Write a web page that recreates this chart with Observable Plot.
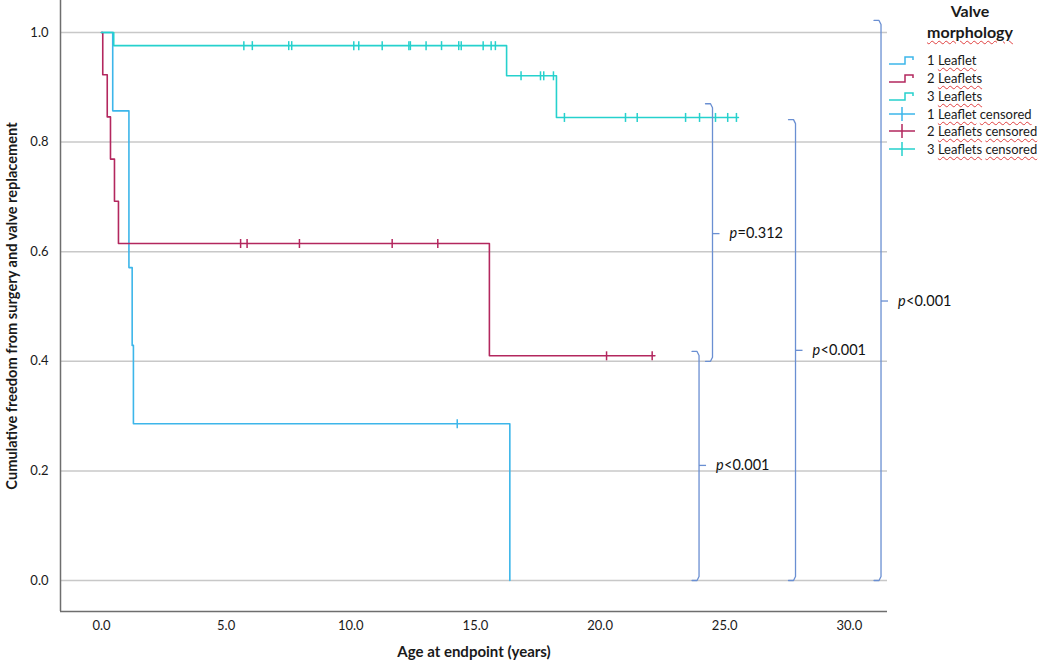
<!DOCTYPE html>
<html><head><meta charset="utf-8">
<script src="https://cdn.jsdelivr.net/npm/d3@7"></script>
<script src="https://cdn.jsdelivr.net/npm/@observablehq/plot@0.6"></script>
<style>
body{margin:0;background:#fff;font-family:Lato,"Open Sans",sans-serif;color:#1a1a1a;}
#wrap{position:relative;width:1049px;height:668px;overflow:hidden;}
#legend{position:absolute;left:0;top:0;}
.ltitle{position:absolute;left:900px;width:140px;top:0;text-align:center;font-weight:bold;font-size:16px;line-height:21px;}
.row{position:absolute;left:888px;height:18px;display:flex;align-items:center;font-size:13px;white-space:nowrap;}
.row svg{margin-right:11px;}
.sq{text-decoration:underline wavy #e04040 1px;text-underline-offset:2px;}
</style></head>
<body><div id="wrap"><div id="chart"></div><div id="legend"></div></div>
<script>
// ---- Data ----
const groups = ["1 Leaflet", "2 Leaflets", "3 Leaflets"];
const colors = ["#3db6ea", "#b3275e", "#26d1cd"];

// step curves (time in years, cumulative freedom)
const leaflet1Times = [0, 0.45, 1.10, 1.23, 1.28, 16.38];
const leaflet1Surv  = [1, 0.857, 0.571, 0.429, 0.286, 0];
const leaflet2Times = [0, 0.05, 0.23, 0.36, 0.52, 0.68, 15.56, 22.2];
const leaflet2Surv  = [1, 0.923, 0.846, 0.769, 0.692, 0.615, 0.410, 0.410];
const leaflet3Times = [0, 0.49, 16.25, 18.25, 25.55];
const leaflet3Surv  = [1, 0.976, 0.921, 0.845, 0.845];

// censored observations (years)
const leaflet1Censored = [14.27];
const leaflet2Censored = [5.58, 5.84, 7.94, 11.66, 13.49, 20.26, 22.09];
const leaflet3Censored = [5.71, 6.05, 7.51, 7.63, 10.12, 10.32, 11.26, 12.33, 12.39, 13.02, 13.64, 14.33, 14.43, 15.31, 15.63, 15.80,
  16.83, 17.61, 17.74, 18.13,
  18.57, 21.02, 21.49, 23.43, 23.99, 24.63, 25.12, 25.47];

// axis ticks
const xTicks = [0, 5, 10, 15, 20, 25, 30];
const yTicks = [0, 0.2, 0.4, 0.6, 0.8, 1.0];
const X_DOMAIN = [-1.645, 31.53];
const Y_DOMAIN = [-0.0566, 1.0584];

// comparison brackets: x position, top, bottom, tip, label
const bracketX     = [24.51, 23.97, 27.84, 31.27];
const bracketTop   = [0.870, 0.418, 0.841, 1.022];
const bracketBot   = [0.400, 0.000, 0.000, 0.000];
const bracketTip   = [0.633, 0.210, 0.420, 0.510];
const bracketLabel = ["=0.312", "<0.001", "<0.001", "<0.001"];

// ---- Build tables ----
const curveSets = [[leaflet1Times, leaflet1Surv], [leaflet2Times, leaflet2Surv], [leaflet3Times, leaflet3Surv]];
const curveRows = [];
curveSets.forEach(([ts, ss], i) => ts.forEach((t, j) => curveRows.push({group: groups[i], t, s: ss[j]})));
function survAt(i, t) {
  const [ts, ss] = curveSets[i];
  let s = ss[0];
  for (let j = 0; j < ts.length; j++) if (ts[j] <= t) s = ss[j];
  return s;
}
const censorRows = [];
[leaflet1Censored, leaflet2Censored, leaflet3Censored].forEach((arr, i) =>
  arr.forEach(t => censorRows.push({group: groups[i], t, s: survAt(i, t)})));

const PXX = 24.93, PXY = 548; // px per unit (for bracket hooks)
const brackets = bracketX.map((x, i) => ({id: i, x, top: bracketTop[i], bot: bracketBot[i], tip: bracketTip[i], label: bracketLabel[i]}));
const bracketPts = [];
brackets.forEach(b => {
  const hx = 7 / PXX, cx = 2 / PXX, cy = 4 / PXY;
  [[b.x - hx, b.top], [b.x - cx, b.top], [b.x, b.top - cy], [b.x, b.bot + cy], [b.x - cx, b.bot], [b.x - hx, b.bot]]
    .forEach(([x, y]) => bracketPts.push({id: b.id, x, y}));
});

const tickSymbol = {draw(ctx) { ctx.moveTo(0, -4.5); ctx.lineTo(0, 4.5); }};
const bracketColor = "#6a8fd2";
const axisColor = "#6e6e6e";

const chart = Plot.plot({
  width: 1049, height: 668,
  marginLeft: 60, marginRight: 162, marginTop: 0, marginBottom: 57,
  style: {fontFamily: "Lato, 'Open Sans', sans-serif", fontSize: "13px", color: "#1a1a1a", background: "#fff"},
  x: {domain: X_DOMAIN},
  y: {domain: Y_DOMAIN},
  color: {domain: groups, range: colors},
  marks: [
    Plot.gridY(yTicks, {stroke: "#c8c8c8", strokeOpacity: 1, strokeWidth: 1.5}),
    Plot.ruleX([X_DOMAIN[0]], {stroke: axisColor, strokeWidth: 1.5}),
    Plot.ruleY([Y_DOMAIN[0]], {stroke: axisColor, strokeWidth: 1.5}),
    Plot.axisX(xTicks, {tickSize: 0, tickPadding: 9, tickFormat: d => d.toFixed(1), label: null}),
    Plot.axisY(yTicks, {tickSize: 0, tickPadding: 12, tickFormat: d => d.toFixed(1), label: null}),
    Plot.text(["Age at endpoint (years)"], {frameAnchor: "bottom", dy: 45, fontWeight: "bold", fontSize: 15}),
    Plot.text(["Cumulative freedom from surgery and valve replacement"], {frameAnchor: "left", dx: -48, rotate: -90, textAnchor: "middle", fontWeight: "bold", fontSize: 14.6}),
    Plot.line(curveRows, {x: "t", y: "s", z: "group", stroke: "group", curve: "step-after", strokeWidth: 1.6}),
    Plot.dot(censorRows, {x: "t", y: "s", stroke: "group", symbol: tickSymbol, r: 4, fill: "none", strokeWidth: 1.5}),
    Plot.line(bracketPts, {x: "x", y: "y", z: "id", stroke: bracketColor, strokeWidth: 1.3}),
    Plot.link(brackets, {x1: "x", x2: d => d.x + 7 / PXX, y1: "tip", y2: "tip", stroke: bracketColor, strokeWidth: 1.3}),
    Plot.text(brackets, {x: "x", y: "tip", text: () => "p", dx: 17, textAnchor: "start", fontStyle: "italic", fontSize: 14.5, fill: "#111"}),
    Plot.text(brackets, {x: "x", y: "tip", text: "label", dx: 25, textAnchor: "start", fontSize: 14.5, fill: "#111"})
  ]
});
document.getElementById("chart").appendChild(chart);

// ---- Legend ----
const legend = document.getElementById("legend");
legend.innerHTML = `<div class="ltitle">Valve<br><span class="sq">morphology</span></div>`;
const legendLabels = [
  ["1", "Leaflet"], ["2", "Leaflets"], ["3", "Leaflets"],
  ["1", "Leaflet censored"], ["2", "Leaflets censored"], ["3", "Leaflets censored"]
];
const rowCenters = [60, 78, 96, 113.5, 131, 148.5];
legendLabels.forEach((lab, i) => {
  const c = colors[i % 3];
  const icon = i < 3
    ? `<svg width="28" height="14"><path d="M1,11 H17 V4 H25 V7" fill="none" stroke="${c}" stroke-width="1.5"/></svg>`
    : `<svg width="28" height="14"><path d="M1,7 H27 M14,0 V14" fill="none" stroke="${c}" stroke-width="1.5"/></svg>`;
  const words = lab[1].split(" ").map(w => `<span class="sq">${w}</span>`).join(" ");
  const row = document.createElement("div");
  row.className = "row";
  row.style.top = (rowCenters[i] - 9) + "px";
  row.innerHTML = icon + `<span>${lab[0]} ${words}</span>`;
  legend.appendChild(row);
});
</script>
</body></html>
